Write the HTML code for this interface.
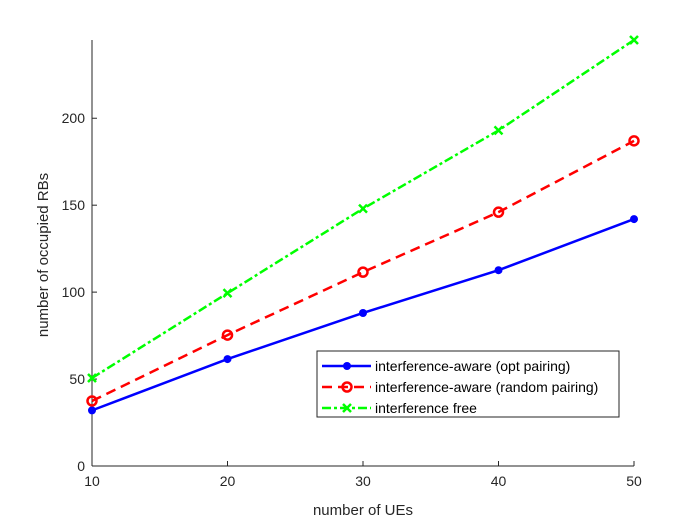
<!DOCTYPE html>
<html><head><meta charset="utf-8"><style>
body{margin:0;background:#fff}
svg{display:block;font-family:"Liberation Sans",Arial,sans-serif}
</style></head><body>
<svg id="chart" width="700" height="525">
<rect width="700" height="525" fill="#fff"/>
<g id="axes"></g><g id="series"></g><g id="legend"></g>
</svg>
<script>
const categories=[10,20,30,40,50];
const optPairing=[32,61.5,88,112.6,142];
const randomPairing=[37.4,75.3,111.5,146,187];
const interferenceFree=[50.6,99.4,148,193,245];
const yTicks=[0,50,100,150,200];
const xTicks=[10,20,30,40,50];
const NS='http://www.w3.org/2000/svg';
const X0=92,X1=634,Y0=466,Y1=40,YMAX=245;
const xs=v=>X0+(v-10)/40*(X1-X0);
const ys=v=>Y0-v/YMAX*(Y0-Y1);
function mk(t,a,p){const e=document.createElementNS(NS,t);for(const k in a)e.setAttribute(k,a[k]);p.appendChild(e);return e;}
const ax=document.getElementById('axes');
let l=mk('line',{x1:X0,y1:Y0,x2:X1,y2:Y0,stroke:'#262626'},ax);


l=mk('line',{x1:X0,y1:Y0,x2:X0,y2:Y1,stroke:'#262626'},ax);


xTicks.forEach(v=>{const x=xs(v);mk('line',{x1:x,y1:Y0,x2:x,y2:Y0-5,stroke:'#262626'},ax);
const t=mk('text',{x:x,y:Y0+20,'text-anchor':'middle','font-size':14,fill:'#262626'},ax);t.textContent=v;

});
yTicks.forEach(v=>{const y=ys(v);mk('line',{x1:X0,y1:y,x2:X0+5,y2:y,stroke:'#262626'},ax);
const t=mk('text',{x:X0-7,y:y+5,'text-anchor':'end','font-size':14,fill:'#262626'},ax);t.textContent=v;

});
let t=mk('text',{x:(X0+X1)/2,y:515,'text-anchor':'middle','font-size':15,fill:'#262626'},ax);t.textContent='number of UEs';


t=mk('text',{x:0,y:0,'text-anchor':'middle','font-size':15,fill:'#262626',transform:`translate(48,${(Y0+Y1)/2+2}) rotate(-90)`},ax);t.textContent='number of occupied RBs';


const S=document.getElementById('series');
function marker(kind,x,y,c,p){
 if(kind==='dot')mk('circle',{cx:x,cy:y,r:4,fill:c},p);
 else if(kind==='ring')mk('circle',{cx:x,cy:y,r:4.5,fill:'none',stroke:c,'stroke-width':2.5},p);
 else{mk('path',{d:`M${x-4} ${y-4}L${x+4} ${y+4}M${x-4} ${y+4}L${x+4} ${y-4}`,stroke:c,'stroke-width':2.5},p);}
}
const defs=[[optPairing,'#0000ff','','dot','series-opt-pairing','interference-aware (opt pairing)'],
[randomPairing,'#ff0000','10 6','ring','series-random-pairing','interference-aware (random pairing)'],
[interferenceFree,'#00ff00','9 3 3 3','cross','series-interference-free','interference free']];
defs.forEach(([d,c,da,m,n])=>{const g=mk('g',{},S);


mk('polyline',{points:d.map((v,i)=>xs(categories[i])+','+ys(v)).join(' '),fill:'none',stroke:c,'stroke-width':2.5,'stroke-dasharray':da},g);
d.forEach((v,i)=>marker(m,xs(categories[i]),ys(v),c,g));});
const L=document.getElementById('legend');


mk('rect',{x:317,y:351,width:302,height:66,fill:'#fff',stroke:'#262626'},L);
defs.forEach(([d,c,da,m,n,lab],i)=>{const y=366+i*21;const g=mk('g',{},L);


mk('line',{x1:322,y1:y,x2:371,y2:y,stroke:c,'stroke-width':2.5,'stroke-dasharray':da},g);
marker(m,347,y,c,g);
const tt=mk('text',{x:375,y:y+5,'font-size':14,fill:'#000'},g);tt.textContent=lab;});
</script>
</body></html>
